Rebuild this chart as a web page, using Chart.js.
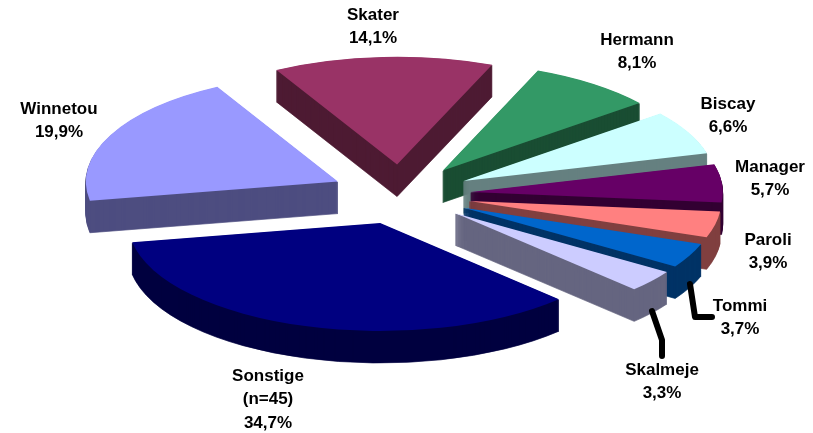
<!DOCTYPE html>
<html>
<head>
<meta charset="utf-8">
<title>Pie</title>
<script src="https://cdn.jsdelivr.net/npm/chart.js@4/dist/chart.umd.min.js"></script>
<style>
  html, body { margin: 0; padding: 0; background: #fff; }
  canvas { display: block; }
</style>
</head>
<body>
<canvas id="pie" width="813" height="433"></canvas>
<script>
// Data
const categories = ['Skater', 'Hermann', 'Biscay', 'Manager', 'Paroli', 'Tommi', 'Skalmeje', 'Sonstige', 'Winnetou'];
const shares = [14.1, 8.1, 6.6, 5.7, 3.9, 3.7, 3.3, 34.7, 19.9];
const topColors = ['#993366', '#339966', '#CCFFFF', '#660066', '#FF8080', '#0066CC', '#CCCCFF', '#000080', '#9999FF'];
const sideColors = ['#4D1B33', '#1A4D33', '#668080', '#330033', '#804040', '#003366', '#666680', '#000040', '#4D4D80'];

// Label text and where it sits (center x, first line y)
const labelLines = [['Skater', '14,1%'], ['Hermann', '8,1%'], ['Biscay', '6,6%'], ['Manager', '5,7%'], ['Paroli', '3,9%'],
  ['Tommi', '3,7%'], ['Skalmeje', '3,3%'], ['Sonstige', '(n=45)', '34,7%'], ['Winnetou', '19,9%']];
const labelPos = [[373, 15], [637, 40], [728, 104], [770, 167], [768, 240], [740, 306], [662, 370], [268, 376], [59, 109]];
const leaders = [
  [[690, 284], [695, 317], [712, 317]],
  [[652, 311], [662, 340], [662, 356]]
];

// 3D look
const centerX = 401, centerY = 194.5, squash = 0.428, depth = 32, explode = 70;
const paintOrder = [0, 8, 1, 2, 3, 4, 5, 6, 7];

const pie3d = {
  id: 'pie3d',
  beforeDatasetsDraw(chart) {
    const ctx = chart.ctx;
    const arcs = chart.getDatasetMeta(0).data;
    paintOrder.forEach(i => {
      const arc = arcs[i];
      const mid = (arc.startAngle + arc.endAngle) / 2;
      const baseOptions = arc.options;
      const place = (dy) => {
        ctx.save();
        ctx.translate(centerX, centerY + dy);
        ctx.scale(1, squash);
        ctx.translate(Math.cos(mid) * explode - arc.x, Math.sin(mid) * explode - arc.y);
        arc.draw(ctx);
        ctx.restore();
      };
      // side wall is the same arc stacked downwards, the thin border keeps its edges solid
      arc.options = Object.assign({}, baseOptions, {
        backgroundColor: sideColors[i], borderColor: sideColors[i], borderWidth: 1
      });
      for (let d = depth; d > 0; d -= 1) place(d);
      arc.options = baseOptions;
      place(0);
    });
    return false;
  },
  afterDraw(chart) {
    const ctx = chart.ctx;
    ctx.save();
    ctx.strokeStyle = '#000';
    ctx.lineWidth = 6;
    ctx.lineJoin = 'round';
    ctx.lineCap = 'round';
    leaders.forEach(pts => {
      ctx.beginPath();
      pts.forEach((p, n) => n ? ctx.lineTo(p[0], p[1]) : ctx.moveTo(p[0], p[1]));
      ctx.stroke();
    });
    ctx.fillStyle = '#000';
    ctx.font = 'bold 17px "Liberation Sans", Arial, sans-serif';
    ctx.textAlign = 'center';
    ctx.textBaseline = 'middle';
    labelLines.forEach((lines, i) => {
      lines.forEach((t, n) => ctx.fillText(t, labelPos[i][0], labelPos[i][1] + n * 23.5));
    });
    ctx.restore();
  }
};

new Chart(document.getElementById('pie'), {
  type: 'pie',
  data: {
    labels: categories,
    datasets: [{ data: shares, backgroundColor: topColors, borderWidth: 0, clip: false }]
  },
  options: {
    responsive: false,
    animation: false,
    rotation: -28.6,
    radius: 252,
    plugins: { legend: { display: false }, tooltip: { enabled: false } }
  },
  plugins: [pie3d]
});
</script>
</body>
</html>
